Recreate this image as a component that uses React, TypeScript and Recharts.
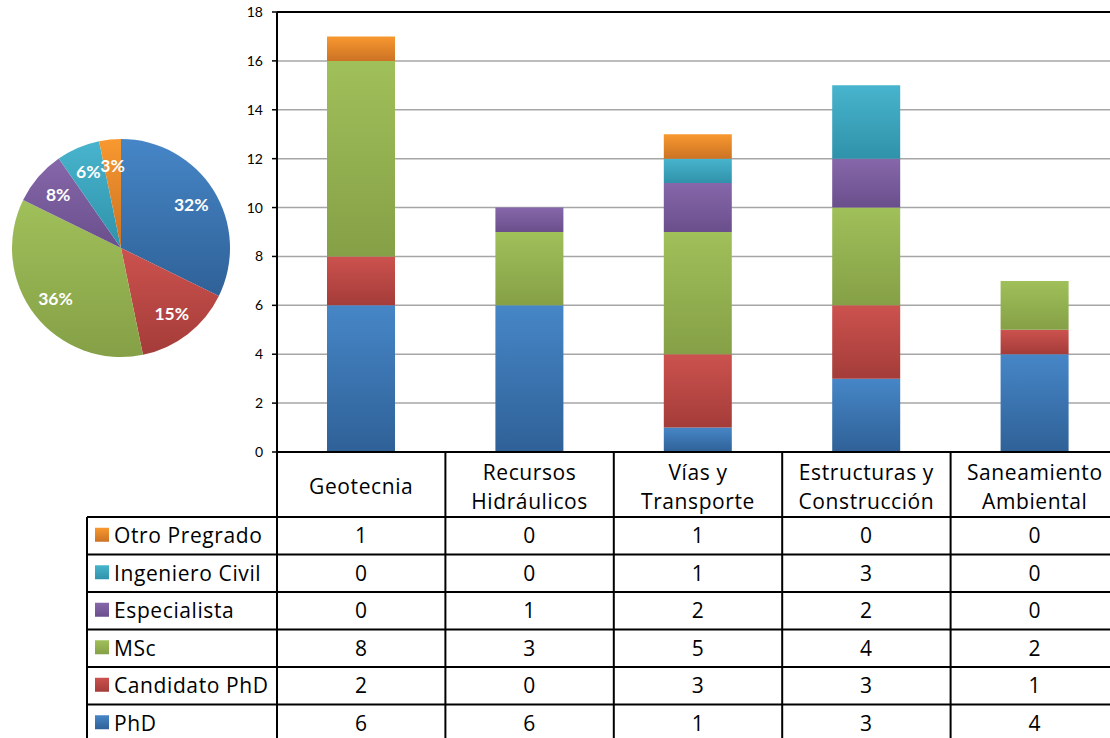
import React from "react";
import { BarChart, Bar, XAxis, YAxis, CartesianGrid, ReferenceLine, PieChart, Pie, Cell } from "recharts";

// ---------- data ----------
const categories = ["Geotecnia", "Recursos Hidráulicos", "Vías y Transporte", "Estructuras y Construcción", "Saneamiento Ambiental"];
const categoryLines = [["Geotecnia"], ["Recursos", "Hidráulicos"], ["Vías y", "Transporte"], ["Estructuras y", "Construcción"], ["Saneamiento", "Ambiental"]];
const seriesNames = ["PhD", "Candidato PhD", "MSc", "Especialista", "Ingeniero Civil", "Otro Pregrado"];
const phd = [6, 6, 1, 3, 4];
const candidato = [2, 0, 3, 3, 1];
const msc = [8, 3, 5, 4, 2];
const especialista = [0, 1, 2, 2, 0];
const ingCivil = [0, 0, 1, 3, 0];
const otro = [1, 0, 1, 0, 0];
const pieLabels = ["32%", "15%", "36%", "8%", "6%", "3%"];
const yTicks = [0, 2, 4, 6, 8, 10, 12, 14, 16, 18];

// ---------- styling ----------
const FONT = "Lato, 'Open Sans', sans-serif";
const TFONT = "'Open Sans', Lato, sans-serif";
const TSIZE = 21;
const TSPACE = 0.6;
const keys = ["phd", "cand", "msc", "esp", "ic", "otro"];
const seriesValues = [phd, candidato, msc, especialista, ingCivil, otro];
const colors: [string, string][] = [
  ["#4686C7", "#2F6197"],
  ["#CC524E", "#A43C39"],
  ["#A0C05A", "#85A046"],
  ["#8667AA", "#6A4F8C"],
  ["#48B4CD", "#2F92AA"],
  ["#F8982F", "#CC7324"],
];

const data = categories.map((c, i) => {
  const row: any = { name: c };
  keys.forEach((k, j) => (row[k] = seriesValues[j][i]));
  return row;
});
const pieData = seriesNames.map((n, j) => ({ name: n, value: seriesValues[j].reduce((a, b) => a + b, 0) }));

// ---------- layout ----------
const W = 1110;
const H = 738;
const PLOT_LEFT = 277;
const PLOT_TOP = 12;
const PLOT_BOTTOM = 452;
const PLOT_RIGHT = 1119;
const CHART_W = 1130;
const COL_W = (PLOT_RIGHT - PLOT_LEFT) / categories.length;
const ROW_Y = [517, 554.5, 592, 629.5, 667, 704.5, 742];
const TABLE_LEFT = 87;
const rowOrder = [5, 4, 3, 2, 1, 0];

const Defs = ({ prefix }: { prefix: string }) => (
  <defs>
    {keys.map((k, j) => (
      <linearGradient key={k} id={`${prefix}-${k}`} x1="0" y1="0" x2="0" y2="1">
        <stop offset="0%" stopColor={colors[j][0]} />
        <stop offset="100%" stopColor={colors[j][1]} />
      </linearGradient>
    ))}
  </defs>
);

const ColumnTick = (props: any) => {
  const { x, index } = props;
  const lines = categoryLines[index] || [];
  const half = COL_W / 2;
  const tp = { textAnchor: "middle" as const, fontSize: TSIZE, fontFamily: TFONT, fill: "#000", letterSpacing: TSPACE };
  return (
    <g>
      <line x1={x + half} y1={PLOT_BOTTOM} x2={x + half} y2={H} stroke="#000" strokeWidth={2} />
      {lines.length === 1 ? (
        <text x={x} y={494} {...tp}>
          {lines[0]}
        </text>
      ) : (
        lines.map((l, k) => (
          <text key={k} x={x} y={480 + k * 29} {...tp}>
            {l}
          </text>
        ))
      )}
      {rowOrder.map((s, r) => (
        <text key={s} x={x} y={(ROW_Y[r] + ROW_Y[r + 1]) / 2 + 7.5} {...tp}>
          {seriesValues[s][index]}
        </text>
      ))}
    </g>
  );
};

const PieLabel = (props: any) => {
  const { cx, cy, midAngle, outerRadius, index } = props;
  const RAD = Math.PI / 180;
  const r = outerRadius * 0.76;
  const x = cx + r * Math.cos(-midAngle * RAD);
  const y = cy + r * Math.sin(-midAngle * RAD);
  return (
    <text x={x} y={y + 6.5} textAnchor="middle" fontSize={17.5} fontWeight="bold" fontFamily={FONT} fill="#fff">
      {pieLabels[index]}
    </text>
  );
};

export default function App() {
  return (
    <div style={{ position: "fixed", left: 0, top: 0, width: W, height: H, overflow: "hidden", background: "#fff" }}>
      <div style={{ position: "absolute", left: 0, top: 0 }}>
        <BarChart width={CHART_W} height={H} data={data} margin={{ top: PLOT_TOP, right: CHART_W - PLOT_RIGHT, left: 0, bottom: 0 }}>
          <Defs prefix="bg" />
          <CartesianGrid vertical={false} stroke="#A6A6A6" strokeWidth={1.5} />
          <YAxis
            width={PLOT_LEFT}
            domain={[0, 18]}
            ticks={yTicks}
            interval={0}
            axisLine={{ stroke: "#000", strokeWidth: 2 }}
            tickLine={{ stroke: "#000", strokeWidth: 1.5 }}
            tickSize={5}
            tickMargin={9}
            tick={{ fontSize: 14, fontFamily: FONT, fill: "#000" }}
          />
          <XAxis
            dataKey="name"
            height={H - PLOT_BOTTOM}
            interval={0}
            axisLine={{ stroke: "#000", strokeWidth: 2 }}
            tickLine={false}
            tick={<ColumnTick />}
          />
          <ReferenceLine y={18} stroke="#000" strokeWidth={2} />
          {keys.map((k) => (
            <Bar key={k} dataKey={k} stackId="a" barSize={68} fill={`url(#bg-${k})`} isAnimationActive={false} />
          ))}
        </BarChart>
      </div>
      <svg style={{ position: "absolute", left: 0, top: 0 }} width={W} height={H}>
        <Defs prefix="lg" />
        <line x1={PLOT_LEFT} y1={PLOT_BOTTOM} x2={PLOT_LEFT} y2={H} stroke="#000" strokeWidth={2} />
        <line x1={TABLE_LEFT} y1={ROW_Y[0]} x2={TABLE_LEFT} y2={H} stroke="#000" strokeWidth={2} />
        {ROW_Y.slice(0, 6).map((y, r) => (
          <line key={r} x1={TABLE_LEFT} y1={y} x2={W} y2={y} stroke="#000" strokeWidth={2} />
        ))}
        {rowOrder.map((s, r) => {
          const cy = (ROW_Y[r] + ROW_Y[r + 1]) / 2;
          return (
            <g key={s}>
              <rect x={95} y={cy - 8} width={14} height={14} fill={`url(#lg-${keys[s]})`} />
              <text x={114} y={cy + 7.5} fontSize={TSIZE} fontFamily={TFONT} letterSpacing={TSPACE} fill="#000">
                {seriesNames[s]}
              </text>
            </g>
          );
        })}
      </svg>
      <div style={{ position: "absolute", left: 0, top: 0 }}>
        <PieChart width={245} height={370} margin={{ top: 0, right: 0, left: 0, bottom: 0 }}>
          <Defs prefix="pg" />
          <Pie
            data={pieData}
            dataKey="value"
            cx={121}
            cy={248}
            outerRadius={109}
            startAngle={90}
            endAngle={-270}
            stroke="none"
            label={<PieLabel />}
            labelLine={false}
            isAnimationActive={false}
          >
            {pieData.map((d, j) => (
              <Cell key={d.name} fill={`url(#pg-${keys[j]})`} />
            ))}
          </Pie>
        </PieChart>
      </div>
    </div>
  );
}
